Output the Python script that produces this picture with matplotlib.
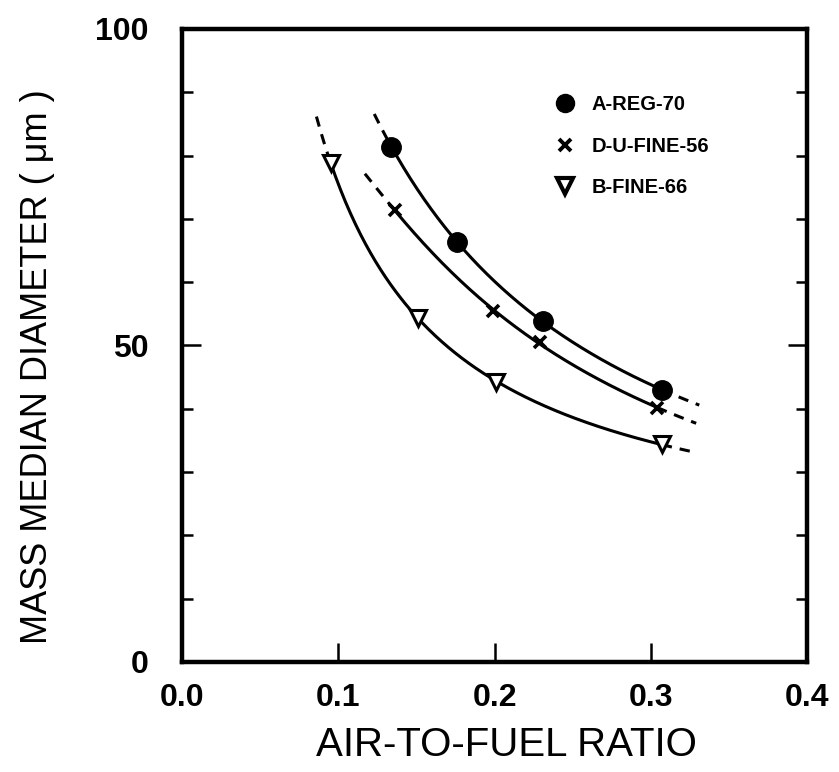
import numpy as np
import matplotlib
matplotlib.use("Agg")
import matplotlib.pyplot as plt
from matplotlib.lines import Line2D
from matplotlib.ticker import MultipleLocator

plt.rcParams["font.family"] = ["Liberation Sans", "DejaVu Sans"]

# data
labels = ["A-REG-70", "D-U-FINE-56", "B-FINE-66"]

x_a = [0.134, 0.176, 0.231, 0.307]
y_a = [81.4, 66.3, 53.8, 43.0]

x_d = [0.136, 0.199, 0.229, 0.304]
y_d = [71.4, 55.4, 50.6, 40.1]

x_b = [0.095, 0.151, 0.201, 0.307]
y_b = [78.9, 54.4, 44.2, 34.4]

# dashed extrapolation limits (left end, right end)
ext_a = [0.123, 0.331]
ext_d = [0.117, 0.329]
ext_b = [0.086, 0.329]

series = [
    (x_a, y_a, ext_a, dict(marker="o", ms=14, mfc="black", mec="black")),
    (x_d, y_d, ext_d, dict(marker="x", ms=9, mew=2.6, mec="black")),
    (x_b, y_b, ext_b, dict(marker="v", ms=11, mfc="white", mec="black", mew=2.2)),
]

fig = plt.figure(figsize=(8.39, 7.72), dpi=100)
ax = fig.add_axes([0.217, 0.1425, 0.745, 0.82])

for xs, ys, ext, mk in series:
    xs = np.array(xs)
    ys = np.array(ys)
    # smooth curve: quadratic in 1/x through the points
    coef = np.polyfit(1 / xs, ys, 2)
    xx = np.linspace(xs.min(), xs.max(), 200)
    ax.plot(xx, np.polyval(coef, 1 / xx), color="black", lw=2.2, zorder=2)
    xl = np.linspace(ext[0], xs.min(), 40)
    xr = np.linspace(xs.max(), ext[1], 40)
    for seg in (xl, xr):
        ax.plot(seg, np.polyval(coef, 1 / seg), color="black", lw=2.2,
                dashes=(3.4, 2.6), zorder=2)
    ax.plot(xs, ys, ls="none", zorder=3, **mk)

ax.set_xlim(0, 0.4)
ax.set_ylim(0, 100)
ax.set_xticks([0.0, 0.1, 0.2, 0.3, 0.4])
ax.set_xticklabels(["0.0", "0.1", "0.2", "0.3", "0.4"])
ax.set_yticks([0, 50, 100])
ax.yaxis.set_minor_locator(MultipleLocator(10))

for s in ax.spines.values():
    s.set_linewidth(3.2)

ax.tick_params(axis="both", which="major", direction="in", length=14, width=1.8,
               labelsize=23, top=False, right=True)
ax.tick_params(axis="y", which="major", pad=24)
ax.tick_params(axis="x", which="major", pad=15)
ax.tick_params(axis="y", which="minor", direction="in", length=8, width=1.8,
               right=True)
for t in ax.get_xticklabels() + ax.get_yticklabels():
    t.set_fontweight("bold")

fig.text(506 / 839, 0.035, "AIR-TO-FUEL RATIO", fontsize=29,
         ha="center", va="center")
fig.text(38 / 839, (772 - 367) / 772, "MASS MEDIAN DIAMETER ( \u03bcm )",
         fontsize=26, rotation=90, ha="center", va="center")

handles = [
    Line2D([], [], ls="none", marker="o", ms=13, mfc="black", mec="black"),
    Line2D([], [], ls="none", marker="x", ms=9, mew=2.8, mec="black"),
    Line2D([], [], ls="none", marker="v", ms=11, mfc="white", mec="black", mew=3),
]
leg = ax.legend(handles, labels, loc="upper left", bbox_to_anchor=(0.596, 0.895),
                frameon=False, fontsize=14.5, handlelength=1.0, handletextpad=0.85,
                labelspacing=1.1, borderpad=0, borderaxespad=0)
for t in leg.get_texts():
    t.set_fontweight("bold")

fig.savefig("out.png", dpi=100)
